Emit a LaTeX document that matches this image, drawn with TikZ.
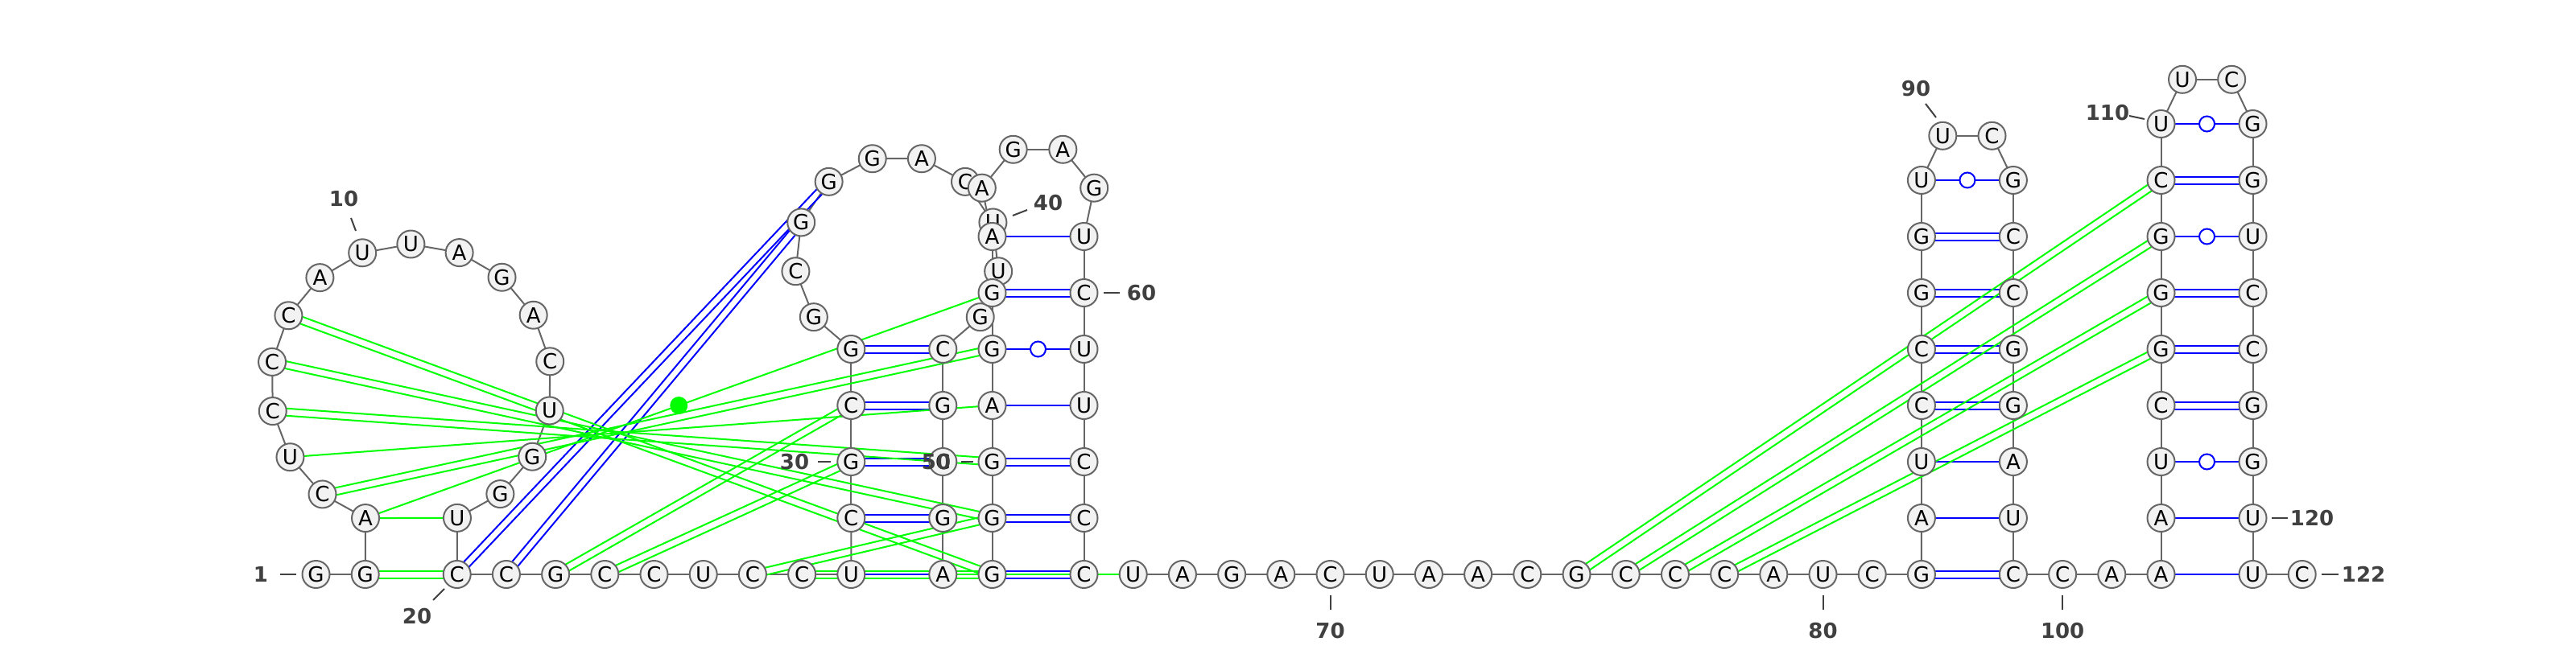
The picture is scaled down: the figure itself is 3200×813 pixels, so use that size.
\documentclass[tikz,border=0pt]{standalone}
\usepackage{fontspec}
\newfontfamily\djv{DejaVu Sans}
\usetikzlibrary{calc}
\pgfdeclarelayer{background}
\pgfsetlayers{background,main}
\definecolor{pgreen}{RGB}{0,255,0}
\definecolor{pblue}{RGB}{0,0,255}
\definecolor{bbgray}{RGB}{102,102,102}
\definecolor{ntfill}{RGB}{242,242,242}
\definecolor{labgray}{RGB}{64,64,64}
\tikzset{
  nt/.style={circle, draw=bbgray, fill=ntfill, line width=2pt, minimum size=34pt, inner sep=0pt, font=\djv\fontsize{26}{26}\selectfont, text=black},
  lab/.style={font=\djv\bfseries\fontsize{26}{26}\selectfont, text=labgray, inner sep=0pt},
  bb/.style={draw=bbgray, line width=2pt},
  bp/.style={draw=pblue, line width=2pt},
  gp/.style={draw=pgreen, line width=2pt},
  wob/.style={circle, draw=pblue, fill=white, line width=2pt, minimum size=19pt, inner sep=0pt},
  gdot/.style={circle, fill=pgreen, minimum size=22pt, inner sep=0pt},
  tickln/.style={draw=labgray, line width=2pt}
}
\newcommand\prS[3]{\draw[#1] (n#2.center) -- (n#3.center);}
\newcommand\prD[3]{%
  \draw[#1] ($(n#2.center)!4.5pt!90:(n#3.center)$) -- ($(n#3.center)!4.5pt!-90:(n#2.center)$);
  \draw[#1] ($(n#2.center)!4.5pt!-90:(n#3.center)$) -- ($(n#3.center)!4.5pt!90:(n#2.center)$);}
\newcommand\prW[2]{\draw[bp] (n#1.center) -- (n#2.center);
  \node[wob] at ($(n#1.center)!0.5!(n#2.center)$) {};}
\begin{document}
\begin{tikzpicture}[x=1pt,y=-1pt]
\useasboundingbox (0,0) rectangle (3200,813);
% ---------- nucleotides ----------
\node[nt] (n1) at (392.5,714) {G};
\node[nt] (n2) at (453.7,714) {G};
\foreach \k/\b in {3/A,4/C,5/U,6/C,7/C,8/C,9/A,10/U,11/U,12/A,13/G,14/A,15/C,16/U,17/G,18/G,19/U}
  \node[nt] (n\k) at ($(510.7,478.5)+({108.9+20.125*(\k-3)}:175)$) {\b};
\foreach \k/\b in {20/C,21/C,22/G,23/C,24/C,25/U,26/C,27/C,28/U}
  \node[nt] (n\k) at ({567.7+61.2*(\k-20)},714) {\b};
\foreach \k/\b in {29/C,30/G,31/C,32/G}
  \node[nt] (n\k) at (1057.3,{714-70*(\k-28)}) {\b};
\foreach \k/\b in {33/G,34/C,35/G,36/G,37/G,38/A,39/C,40/U,41/U,42/G}
  \node[nt] (n\k) at ($(1114.3,320.5)+({116.67+27.88*(\k-32)}:127)$) {\b};
\foreach \k/\b in {43/C,44/G,45/C,46/G,47/A}
  \node[nt] (n\k) at (1171.3,{434+70*(\k-43)}) {\b};
\foreach \k/\b in {48/G,49/G,50/G,51/A,52/G,53/G,54/A}
  \node[nt] (n\k) at (1232.5,{714-70*(\k-48)}) {\b};
\foreach \k/\b in {55/A,56/G,57/A,58/G}
  \node[nt] (n\k) at ($(1289.5,250.5)+({142.65+50.94*(\k-54)}:71.7)$) {\b};
\foreach \k/\b in {59/U,60/C,61/U,62/U,63/C,64/C}
  \node[nt] (n\k) at (1346.5,{294+70*(\k-59)}) {\b};
\foreach \k/\b in {65/C,66/U,67/A,68/G,69/A,70/C,71/U,72/A,73/A,74/C,75/G,76/C,77/C,78/C,79/A,80/U,81/C,82/G}
  \node[nt] (n\k) at ({1346.5+61.2*(\k-65)},714) {\b};
\foreach \k/\b in {83/A,84/U,85/C,86/C,87/G,88/G,89/U}
  \node[nt] (n\k) at (2386.9,{714-70*(\k-82)}) {\b};
\node[nt] (n90) at (2413.3,168.8) {U};
\node[nt] (n91) at (2474.5,168.8) {C};
\foreach \k/\b in {92/G,93/C,94/C,95/G,96/G,97/A,98/U,99/C}
  \node[nt] (n\k) at (2500.9,{224+70*(\k-92)}) {\b};
\node[nt] (n100) at (2562.1,714) {C};
\node[nt] (n101) at (2623.3,714) {A};
\foreach \k/\b in {102/A,103/A,104/U,105/C,106/G,107/G,108/G,109/C,110/U}
  \node[nt] (n\k) at (2684.5,{714-70*(\k-102)}) {\b};
\node[nt] (n111) at (2711,98.8) {U};
\node[nt] (n112) at (2772.2,98.8) {C};
\foreach \k/\b in {113/G,114/G,115/U,116/C,117/C,118/G,119/G,120/U,121/U}
  \node[nt] (n\k) at (2798.5,{154+70*(\k-113)}) {\b};
\node[nt] (n122) at (2859.7,714) {C};
% ---------- connectors ----------
\begin{pgfonlayer}{background}
\foreach \i in {1,...,121}{\pgfmathtruncatemacro\j{\i+1}\draw[bb] (n\i.center) -- (n\j.center);}
% blue pairs
\prS{bp}{28}{47}
\prD{bp}{29}{46}
\prD{bp}{30}{45}
\prD{bp}{31}{44}
\prD{bp}{32}{43}
\prD{bp}{48}{65}
\prD{bp}{49}{64}
\prD{bp}{50}{63}
\prS{bp}{51}{62}
\prW{52}{61}
\prD{bp}{53}{60}
\prS{bp}{54}{59}
\prD{bp}{20}{36}
\prD{bp}{21}{35}
\prD{bp}{82}{99}
\prS{bp}{83}{98}
\prS{bp}{84}{97}
\prD{bp}{85}{96}
\prD{bp}{86}{95}
\prD{bp}{87}{94}
\prD{bp}{88}{93}
\prW{89}{92}
\prS{bp}{102}{121}
\prS{bp}{103}{120}
\prW{104}{119}
\prD{bp}{105}{118}
\prD{bp}{106}{117}
\prD{bp}{107}{116}
\prW{108}{115}
\prD{bp}{109}{114}
\prW{110}{113}
% green pairs
\prD{gp}{2}{20}
\prS{gp}{3}{19}
\prS{gp}{3}{53}
\node[gdot] (dot) at ($(n3.center)!0.5!(n53.center)$) {};
\prD{gp}{4}{52}
\prS{gp}{5}{51}
\prD{gp}{6}{50}
\prD{gp}{7}{49}
\prD{gp}{8}{48}
\prD{gp}{22}{31}
\prD{gp}{23}{30}
\prD{gp}{26}{49}
\prD{gp}{27}{48}
\prS{gp}{47}{66}
\prD{gp}{75}{109}
\prD{gp}{76}{108}
\prD{gp}{77}{107}
\prD{gp}{78}{106}
\end{pgfonlayer}
% ---------- numbering ----------
\node[lab] (l1) at (324,714) {1};
\draw[tickln] (348,714) -- (368,714);
\node[lab] (l10) at (427,247) {10};
\draw[tickln] (436,271) -- (442,287);
\node[lab] (l20) at (518,766) {20};
\draw[tickln] (552,732) -- (538,746);
\node[lab] (l30) at (987,574) {30};
\draw[tickln] (1016,574) -- (1032,574);
\node[lab] (l40) at (1302,252) {40};
\draw[tickln] (1258,268) -- (1276,261);
\node[lab] (l50) at (1163,574) {50};
\draw[tickln] (1194,574) -- (1209,574);
\node[lab] (l60) at (1418,364) {60};
\draw[tickln] (1371,364) -- (1391,364);
\node[lab] (l70) at (1652.5,784) {70};
\draw[tickln] (1652.5,740) -- (1652.5,758);
\node[lab] (l80) at (2264.5,784) {80};
\draw[tickln] (2264.5,740) -- (2264.5,758);
\node[lab] (l90) at (2380,110) {90};
\draw[tickln] (2392,129) -- (2405,146);
\node[lab] (l100) at (2562.1,784) {100};
\draw[tickln] (2562.1,740) -- (2562.1,758);
\node[lab] (l110) at (2618,140) {110};
\draw[tickln] (2645,144) -- (2664,148);
\node[lab] (l120) at (2872,644) {120};
\draw[tickln] (2822,644) -- (2842,644);
\node[lab] (l122) at (2936,714) {122};
\draw[tickln] (2884,714) -- (2905,714);
\end{tikzpicture}
\end{document}
